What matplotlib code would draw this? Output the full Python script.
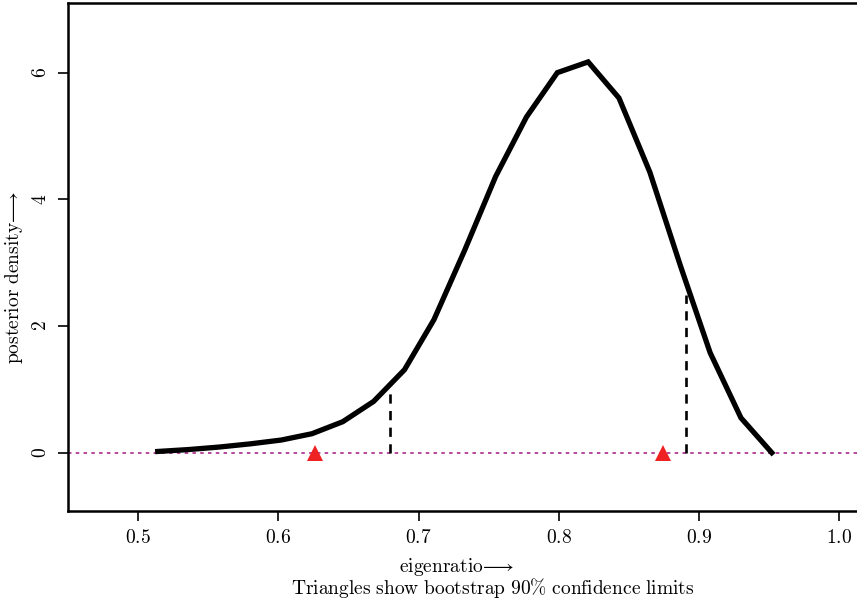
import matplotlib.pyplot as plt
import numpy as np

plt.rcParams['mathtext.fontset'] = 'cm'
plt.rcParams['font.family'] = 'serif'

# posterior density curve
eigenratio = [0.514, 0.536, 0.558, 0.580, 0.602, 0.624, 0.646, 0.668, 0.690, 0.711, 0.733,
              0.755, 0.777, 0.799, 0.821, 0.843, 0.865, 0.887, 0.908, 0.930, 0.952]
densidad = [0.02, 0.05, 0.09, 0.14, 0.20, 0.30, 0.49, 0.81, 1.31, 2.10, 3.20,
            4.36, 5.30, 6.00, 6.17, 5.60, 4.43, 2.94, 1.58, 0.55, 0.00]

# limites (lineas discontinuas) y bootstrap (triangulos)
limites = [0.680, 0.891]
bootstrap = [0.626, 0.8745]

xticks = [0.5, 0.6, 0.7, 0.8, 0.9, 1.0]
yticks = [0, 2, 4, 6]

fig = plt.figure(figsize=(8.57, 6.0), dpi=100)
ax = fig.add_axes([68 / 857, 1 - 511 / 600, 1 - 68 / 857 + 0.02, (511 - 3) / 600])

ax.axhline(0, color='#b8489e', lw=1.4, linestyle=(0, (1.8, 2.2)), zorder=1)
ax.plot(eigenratio, densidad, color='black', lw=3.8, solid_joinstyle='miter', zorder=3)
for lim in limites:
    h = np.interp(lim, eigenratio, densidad) * 0.93
    ax.plot([lim, lim], [0, h], color='black', lw=1.9, linestyle=(0, (3.5, 2.8)), zorder=2)
ax.plot(bootstrap, [0, 0], linestyle='none', marker='^', markersize=11,
        color='#ee2222', markeredgewidth=0, zorder=4)

ax.set_xlim(0.45, 0.45 + (857 + 0.02 * 857 - 68) / 1402)
ax.set_ylim(-0.92, 7.1)

ax.set_xticks(xticks)
ax.set_xticklabels(['$%.1f$' % t for t in xticks], fontsize=14)
ax.set_yticks(yticks)
ax.set_yticklabels(['$%d$' % t for t in yticks], fontsize=14, rotation=90, va='center')
ax.tick_params(direction='out', length=7, width=1.2, pad=6)
for s in ax.spines.values():
    s.set_linewidth(1.8)

fig.text(457 / 857, 1 - 567 / 600, r'$\mathrm{eigenratio}\!\longrightarrow$', ha='center', va='center', fontsize=14)
fig.text(493 / 857, 1 - 588 / 600, r'$\mathrm{Triangles\ show\ bootstrap\ 90\%\ confidence\ limits}$',
         ha='center', va='center', fontsize=14)
fig.text(14 / 857, 1 - 277 / 600, r'$\mathrm{posterior\ density}\!\longrightarrow$', ha='center', va='center',
         fontsize=14, rotation=90)

plt.savefig('out.png', dpi=100)
